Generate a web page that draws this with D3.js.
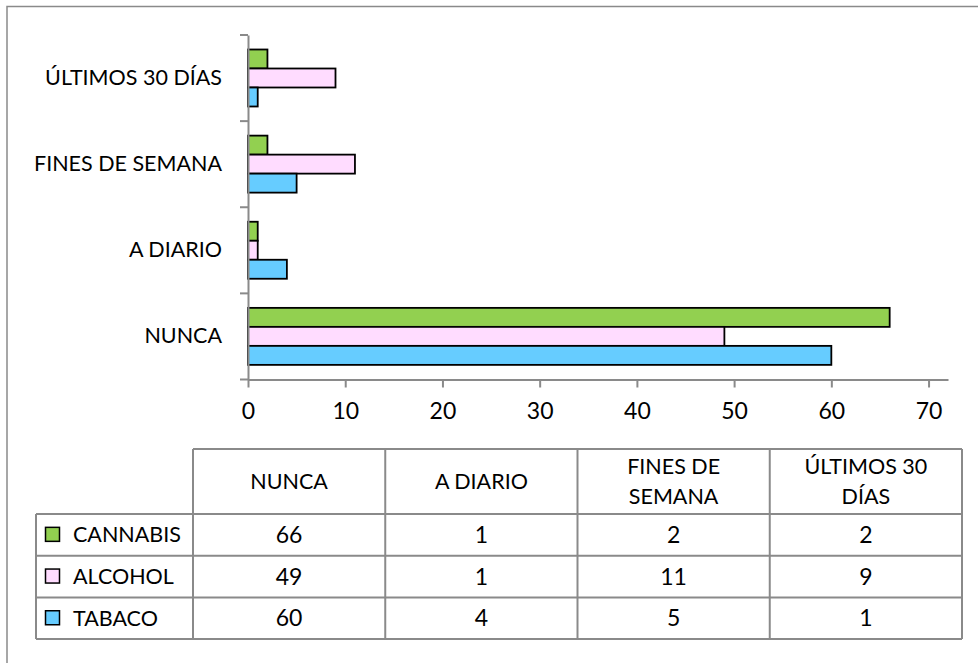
<!DOCTYPE html>
<html>
<head>
<meta charset="utf-8">
<script src="https://cdn.jsdelivr.net/npm/d3@7.9.0/dist/d3.min.js"></script>
<style>
  body { margin: 0; background: #fff; }
  svg text { font-family: Lato, "Open Sans", sans-serif; fill: #000; }
</style>
</head>
<body>
<svg id="chart" width="978" height="663"></svg>
<script>
// categories (bottom to top on the chart)
const categories = ['NUNCA', 'A DIARIO', 'FINES DE SEMANA', 'ÚLTIMOS 30 DÍAS'];
const headerLines = [['NUNCA'], ['A DIARIO'], ['FINES DE', 'SEMANA'], ['ÚLTIMOS 30', 'DÍAS']];
const seriesNames = ['CANNABIS', 'ALCOHOL', 'TABACO'];
const cannabis = [66, 1, 2, 2];
const alcohol = [49, 1, 11, 9];
const tabaco = [60, 4, 5, 1];
const xTicks = [0, 10, 20, 30, 40, 50, 60, 70];

const colors = { CANNABIS: '#92d050', ALCOHOL: '#ffdcff', TABACO: '#66ccff' };
const values = { CANNABIS: cannabis, ALCOHOL: alcohol, TABACO: tabaco };

const svg = d3.select('#chart');
const gray = '#8a8a8a';
const fs = 21.5;
const fsNum = 23;

// outer frame
svg.append('rect')
  .attr('x', 7).attr('y', 6.5).attr('width', 1000).attr('height', 700)
  .attr('fill', 'none').attr('stroke', gray).attr('stroke-width', 1.5);

const plot = { left: 248, right: 948, top: 35, bottom: 379.5 };

const x = d3.scaleLinear().domain([0, 72]).range([plot.left, plot.right]);
const y = d3.scaleBand().domain(categories).range([plot.bottom, plot.top]);
const sub = d3.scaleBand().domain(seriesNames).range([14.5, 71.5]);

// bars
categories.forEach((cat, i) => {
  seriesNames.forEach(s => {
    svg.append('rect')
      .attr('x', x(0))
      .attr('y', y(cat) + sub(s))
      .attr('width', x(values[s][i]) - x(0))
      .attr('height', sub.bandwidth())
      .attr('fill', colors[s])
      .attr('stroke', '#000')
      .attr('stroke-width', 1.8);
  });
});

// x axis
const xAxis = svg.append('g')
  .attr('transform', `translate(0,${plot.bottom})`)
  .call(d3.axisBottom(x).tickValues(xTicks).tickSize(8).tickSizeOuter(0).tickPadding(15));
xAxis.select('.domain').attr('stroke', gray).attr('stroke-width', 2);
xAxis.selectAll('.tick line').attr('stroke', gray).attr('stroke-width', 2);
xAxis.selectAll('.tick text').attr('font-size', fsNum).style('font-family', 'Lato, sans-serif');

// y axis: labels at band centres, ticks at band boundaries
const yAxis = svg.append('g')
  .attr('transform', `translate(${plot.left},0)`)
  .call(d3.axisLeft(y).tickSize(0).tickPadding(26));
yAxis.select('.domain').attr('stroke', gray).attr('stroke-width', 2);
yAxis.selectAll('.tick text').attr('font-size', fs).style('font-family', 'Lato, sans-serif');
const bounds = categories.map(c => y(c)).concat([plot.bottom]);
yAxis.selectAll('line.bound').data(bounds).join('line')
  .attr('class', 'bound')
  .attr('x1', -8).attr('x2', 0)
  .attr('y1', d => d).attr('y2', d => d)
  .attr('stroke', gray).attr('stroke-width', 2);

// data table
const tbl = { left: 36, colLeft: 193, right: 962, top: 449, headBottom: 514, rowH: 41.7 };
const colX = d3.scaleBand().domain(categories).range([tbl.colLeft, tbl.right]);
const rowY = d3.scaleBand().domain(seriesNames).range([tbl.headBottom, tbl.headBottom + 3 * tbl.rowH]);
const tblBottom = tbl.headBottom + 3 * tbl.rowH;
const t = svg.append('g').attr('stroke', gray).attr('stroke-width', 2);

// header box
t.append('line').attr('x1', tbl.colLeft).attr('x2', tbl.right).attr('y1', tbl.top).attr('y2', tbl.top);
// row lines
seriesNames.forEach(s => {
  t.append('line').attr('x1', tbl.left).attr('x2', tbl.right).attr('y1', rowY(s)).attr('y2', rowY(s));
});
t.append('line').attr('x1', tbl.left).attr('x2', tbl.right).attr('y1', tblBottom).attr('y2', tblBottom);
// column lines
t.append('line').attr('x1', tbl.left).attr('x2', tbl.left).attr('y1', tbl.headBottom).attr('y2', tblBottom);
categories.forEach(c => {
  t.append('line').attr('x1', colX(c)).attr('x2', colX(c)).attr('y1', tbl.top).attr('y2', tblBottom);
});
t.append('line').attr('x1', tbl.right).attr('x2', tbl.right).attr('y1', tbl.top).attr('y2', tblBottom);

// header text
categories.forEach((c, i) => {
  const lines = headerLines[i];
  const cx = colX(c) + colX.bandwidth() / 2;
  const cy = (tbl.top + tbl.headBottom) / 2;
  lines.forEach((ln, j) => {
    svg.append('text')
      .attr('x', cx)
      .attr('y', cy + (j - (lines.length - 1) / 2) * 30)
      .attr('dy', '0.35em')
      .attr('text-anchor', 'middle')
      .attr('font-size', fs)
      .text(ln);
  });
});

// rows: legend key + values
seriesNames.forEach(s => {
  const cy = rowY(s) + rowY.bandwidth() / 2;
  svg.append('rect')
    .attr('x', 45.5).attr('y', cy - 7.5).attr('width', 14).attr('height', 14)
    .attr('fill', colors[s]).attr('stroke', '#000').attr('stroke-width', 1.5);
  svg.append('text')
    .attr('x', 73).attr('y', cy).attr('dy', '0.35em')
    .attr('font-size', fs).text(s);
  categories.forEach((c, i) => {
    svg.append('text')
      .attr('x', colX(c) + colX.bandwidth() / 2)
      .attr('y', cy).attr('dy', '0.35em')
      .attr('text-anchor', 'middle')
      .attr('font-size', fsNum)
      .text(values[s][i]);
  });
});
</script>
</body>
</html>
